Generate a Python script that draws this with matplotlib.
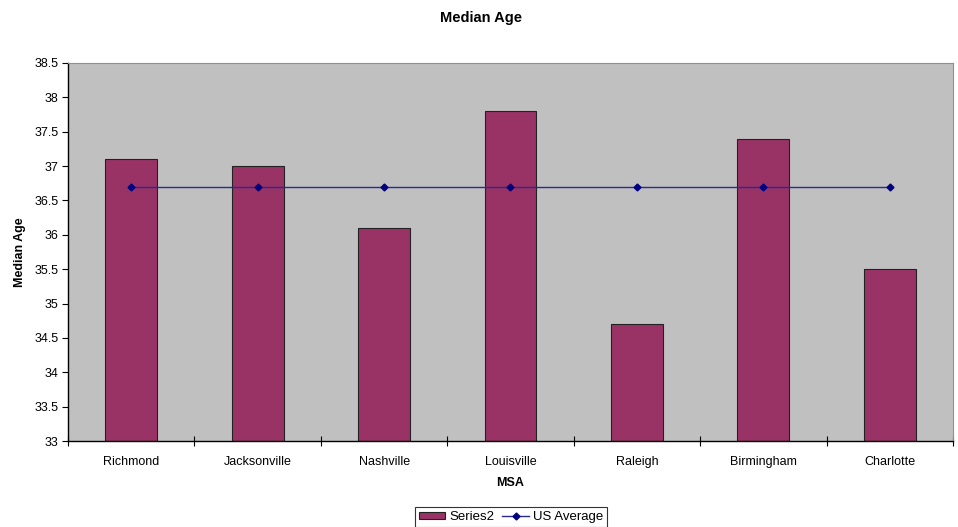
import matplotlib
matplotlib.use("Agg")
import matplotlib.pyplot as plt
import numpy as np

categories = ["Richmond", "Jacksonville", "Nashville", "Louisville", "Raleigh", "Birmingham", "Charlotte"]
series2 = [37.1, 37.0, 36.1, 37.8, 34.7, 37.4, 35.5]
us_average = [36.7, 36.7, 36.7, 36.7, 36.7, 36.7, 36.7]
yticks = [33, 33.5, 34, 34.5, 35, 35.5, 36, 36.5, 37, 37.5, 38, 38.5]

plt.rcParams['font.family'] = ['Liberation Sans', 'DejaVu Sans']

fig = plt.figure(figsize=(9.58, 5.27), dpi=100)
ax = fig.add_axes([68/958, 1-441/527, (953-68)/958, (441-63)/527])
ax.set_facecolor('#c0c0c0')

x = np.arange(len(categories))
bars = ax.bar(x, np.array(series2) - 33, bottom=33, width=0.41, color='#993366',
              edgecolor='#222222', linewidth=0.8, label='Series2', zorder=2)
line, = ax.plot(x, us_average, color='#2a2a90', marker='D', markersize=3.5,
                markerfacecolor='#000080', markeredgecolor='#000080', linewidth=1,
                label='US Average', zorder=3)

ax.set_xlim(-0.5, len(categories) - 0.5)
ax.set_ylim(33, 38.5)
ax.set_yticks(yticks)
ax.set_yticklabels([f"{t:g}" for t in yticks], fontsize=9)
ax.set_xticks(x)
ax.set_xticklabels(categories, fontsize=9)
ax.tick_params(axis='x', length=0, pad=11)
ax.set_xticks(np.arange(len(categories) + 1) - 0.5, minor=True)
ax.tick_params(axis='x', which='minor', length=7, direction='inout', width=0.8)
ax.tick_params(axis='y', length=4, direction='out', width=0.8, pad=3)

for s in ['top', 'right']:
    ax.spines[s].set_color('#909090')
    ax.spines[s].set_linewidth(0.8)
for s in ['left', 'bottom']:
    ax.spines[s].set_color('black')
    ax.spines[s].set_linewidth(1)

ax.set_xlabel('MSA', fontsize=9, fontweight='bold', labelpad=6)
ax.set_ylabel('Median Age', fontsize=9, fontweight='bold', labelpad=6)
fig.text(481/958, 1 - 18/527, 'Median Age', ha='center', va='center',
         fontsize=10.5, fontweight='bold')

leg = fig.legend(handles=[bars, line], labels=['Series2', 'US Average'],
                 loc='upper center', bbox_to_anchor=(511/958, 1 - 507/527), ncol=2,
                 fontsize=9.5, frameon=True, fancybox=False, edgecolor='black',
                 handlelength=2.0, handletextpad=0.3, columnspacing=0.6,
                 borderpad=0.3, borderaxespad=0, handleheight=0.5)
leg.get_frame().set_linewidth(0.8)

fig.savefig('out.png', dpi=100)
